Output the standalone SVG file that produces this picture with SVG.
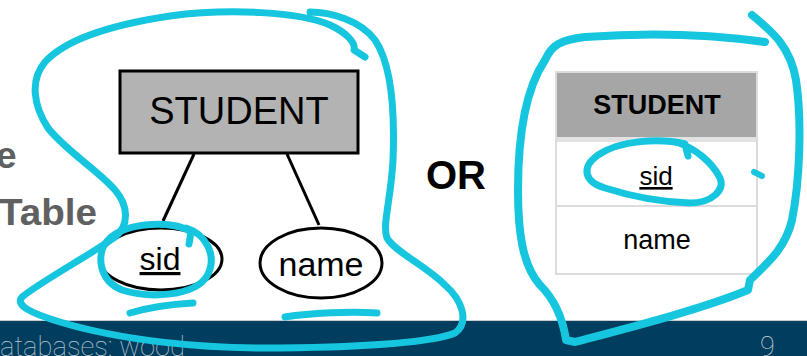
<svg xmlns="http://www.w3.org/2000/svg" width="807" height="356" viewBox="0 0 807 356">
<style>
.sans{font-family:"Liberation Sans",Arial,sans-serif}
.er{fill:none;stroke:#000;stroke-width:3}
.conn{stroke:#000;stroke-width:3;fill:none}
.ink{fill:none;stroke:#16c5de;stroke-linecap:round;stroke-linejoin:round}
.tb{stroke:#dcdcdc;stroke-width:2}
.foot{font-family:Roboto,"Liberation Sans",sans-serif;font-weight:100;font-size:27px}
</style>
<rect width="807" height="356" fill="#fff"/>
<g id="side-text" class="sans" font-weight="bold" fill="#606060">
<text x="-4" y="168" font-size="37">e</text>
<text x="-1" y="225" font-size="37" textLength="98" lengthAdjust="spacingAndGlyphs">Table</text>
</g>
<g id="footer">
<rect x="0" y="320" width="807" height="1.5" fill="#c9cdd0"/>
<rect x="0" y="321" width="807" height="35" fill="#003d5e"/>
<text class="foot" x="0" y="356" fill="#b9c3cc" textLength="185" lengthAdjust="spacingAndGlyphs">atabases: wood</text>
<text class="foot" x="760" y="356" fill="#d0d6dc">9</text>
</g>
<g id="connectors">
<line class="conn" x1="194" y1="154" x2="163" y2="221"/>
<line class="conn" x1="287" y1="154" x2="319" y2="225"/>
</g>
<g id="student-entity">
<rect x="120" y="71" width="238" height="82" fill="#b3b3b3" stroke="#000" stroke-width="3"/>
<text class="sans" x="239" y="124" font-size="38" text-anchor="middle">STUDENT</text>
</g>
<g id="attr-sid">
<ellipse class="er" cx="161" cy="259" rx="61" ry="31" fill="#fff"/>
<text class="sans" x="160" y="270" font-size="32" text-anchor="middle" text-decoration="underline">sid</text>
</g>
<g id="attr-name">
<ellipse class="er" cx="321" cy="263" rx="61" ry="35" fill="#fff"/>
<text class="sans" x="321" y="276" font-size="34" text-anchor="middle">name</text>
</g>
<g id="or-label">
<text class="sans" x="456" y="189" font-size="40" font-weight="bold" text-anchor="middle">OR</text>
</g>
<g id="student-table">
<rect x="556" y="72" width="201" height="202" fill="#fff" class="tb"/>
<rect x="557" y="73" width="199" height="64" fill="#a6a6a6"/>
<rect x="557" y="137" width="199" height="5" fill="#e2e2e2"/>
<line class="tb" x1="556" y1="206" x2="757" y2="206"/>
<text class="sans" x="657" y="114" font-size="27" font-weight="bold" text-anchor="middle">STUDENT</text>
<text class="sans" x="656" y="185" font-size="26" text-anchor="middle" text-decoration="underline">sid</text>
<text class="sans" x="657" y="249" font-size="27" text-anchor="middle">name</text>
</g>
<g id="annotations">
<path class="ink" stroke-width="7" d="M310,12 C330,12 360,20 375,40 C392,65 395,110 393,160 C391,200 382,225 387,238 C395,252 425,265 445,285 C462,300 470,322 455,333 C430,343 360,347 280,348 C200,349 120,340 60,322 C30,313 15,305 22,297 C40,282 90,255 115,237 C130,225 128,205 115,190 C100,172 65,150 48,128 C33,105 30,80 45,62 C65,40 110,25 170,16 C230,8 300,12 330,25 C345,32 356,42 354,50 L365,57"/>
<path class="ink" stroke-width="7" d="M189,244 L191,232 C175,221 130,221 110,238 C95,252 98,280 122,290 C150,299 195,296 207,276 C218,256 206,234 186,228"/>
<path class="ink" stroke-width="7" d="M130,313 C150,307 175,304 193,303"/>
<path class="ink" stroke-width="7" d="M285,317 C310,313 350,311 377,313"/>
<path class="ink" stroke-width="8" d="M752,15 C770,30 790,45 796,80 C802,120 800,180 792,220 C785,250 765,265 750,280 L748,290 C700,310 620,330 575,342 L566,340 C563,320 555,300 540,285 C522,265 518,230 518,190 C518,140 525,90 545,60 C552,45 560,40 585,37 C640,33 700,33 765,42"/>
<path class="ink" stroke-width="7" d="M688,156 L685,144 C660,138 620,140 598,155 C580,168 585,182 605,188 C630,196 660,202 690,203 C712,203 725,190 720,178 C712,162 695,148 676,142"/>
<path class="ink" stroke-width="6" d="M754,172 L762,176"/>
</g>
</svg>
